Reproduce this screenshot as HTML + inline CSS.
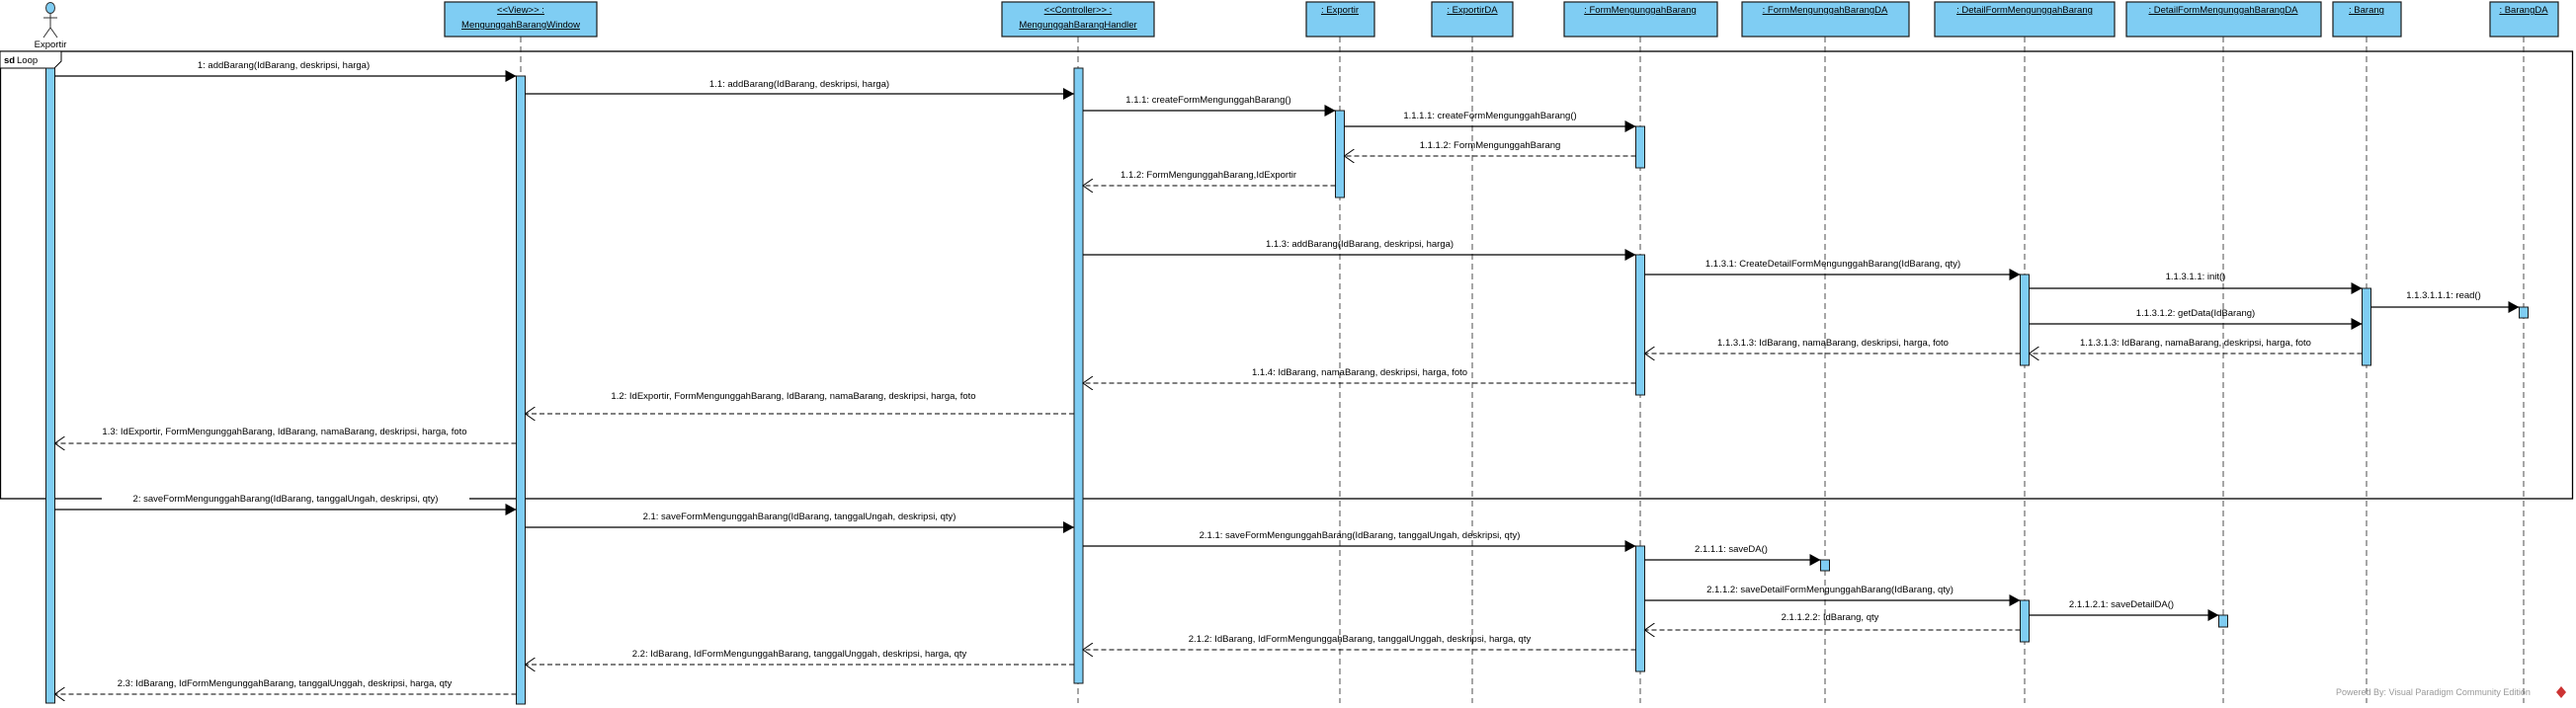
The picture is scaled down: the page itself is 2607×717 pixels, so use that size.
<!DOCTYPE html>
<html><head><meta charset="utf-8"><style>
html,body{margin:0;padding:0;background:#fff}
svg{display:block}
text{font-family:"Liberation Sans",Arial,sans-serif;font-size:9.5px;fill:#000}
.b{fill:#7fcdf3;stroke:#1a1a1a;stroke-width:1.2}
.a{fill:#7fcdf3;stroke:#1a1a1a;stroke-width:1}
.ll{stroke:#222;stroke-width:0.8;stroke-dasharray:6,4}
.m{stroke:#000;stroke-width:1.2;fill:none}
.r{stroke:#000;stroke-width:1;stroke-dasharray:5,3;fill:none}
.u{text-decoration:underline}
</style></head><body>
<svg width="2607" height="717" viewBox="0 0 2607 717" xmlns="http://www.w3.org/2000/svg">
<defs>
<marker id="f" markerWidth="12" markerHeight="12" refX="11" refY="6" orient="auto" markerUnits="userSpaceOnUse"><path d="M0,0 L11,6 L0,12 z" fill="#000"/></marker>
<marker id="o" markerWidth="12" markerHeight="14" refX="11" refY="7" orient="auto" markerUnits="userSpaceOnUse"><path d="M1,0 L11,7 L1,14" fill="none" stroke="#000" stroke-width="1"/></marker>
</defs>

<rect x="0.5" y="52" width="2603" height="453" fill="none" stroke="#000" stroke-width="1.3"/>
<path d="M0.5,52 H62 V62 L55,69 H0.5" fill="#fff" stroke="#000" stroke-width="1"/>
<text x="4" y="64" style="font-weight:bold">sd</text><text x="17" y="64">Loop</text>

<ellipse cx="51" cy="8" rx="4.5" ry="5.5" fill="#7fcdf3" stroke="#333"/>
<line x1="51" y1="13.5" x2="51" y2="28" stroke="#333"/>
<line x1="44" y1="18" x2="58" y2="18" stroke="#333"/>
<line x1="51" y1="28" x2="44" y2="38" stroke="#333"/>
<line x1="51" y1="28" x2="58" y2="38" stroke="#333"/>
<text x="51" y="48" text-anchor="middle">Exportir</text>

<rect class="b" x="450" y="2" width="154" height="35"/>
<text x="527" y="13" text-anchor="middle" class="u">&lt;&lt;View&gt;&gt; :</text>
<text x="527" y="28" text-anchor="middle" class="u">MengunggahBarangWindow</text>
<rect class="b" x="1014" y="2" width="154" height="35"/>
<text x="1091" y="13" text-anchor="middle" class="u">&lt;&lt;Controller&gt;&gt; :</text>
<text x="1091" y="28" text-anchor="middle" class="u">MengunggahBarangHandler</text>
<rect class="b" x="1322" y="2" width="69" height="35"/><text x="1356" y="13" text-anchor="middle" class="u">: Exportir</text>
<rect class="b" x="1449" y="2" width="82" height="35"/><text x="1490" y="13" text-anchor="middle" class="u">: ExportirDA</text>
<rect class="b" x="1583" y="2" width="155" height="35"/><text x="1660" y="13" text-anchor="middle" class="u">: FormMengunggahBarang</text>
<rect class="b" x="1763" y="2" width="169" height="35"/><text x="1847" y="13" text-anchor="middle" class="u">: FormMengunggahBarangDA</text>
<rect class="b" x="1958" y="2" width="182" height="35"/><text x="2049" y="13" text-anchor="middle" class="u">: DetailFormMengunggahBarang</text>
<rect class="b" x="2152" y="2" width="197" height="35"/><text x="2250" y="13" text-anchor="middle" class="u">: DetailFormMengunggahBarangDA</text>
<rect class="b" x="2361" y="2" width="69" height="35"/><text x="2395" y="13" text-anchor="middle" class="u">: Barang</text>
<rect class="b" x="2520" y="2" width="69" height="35"/><text x="2554" y="13" text-anchor="middle" class="u">: BarangDA</text>

<line class="ll" x1="527" y1="37" x2="527" y2="712"/>
<line class="ll" x1="1091" y1="37" x2="1091" y2="712"/>
<line class="ll" x1="1356" y1="37" x2="1356" y2="712"/>
<line class="ll" x1="1490" y1="37" x2="1490" y2="712"/>
<line class="ll" x1="1660" y1="37" x2="1660" y2="712"/>
<line class="ll" x1="1847" y1="37" x2="1847" y2="712"/>
<line class="ll" x1="2049" y1="37" x2="2049" y2="712"/>
<line class="ll" x1="2250" y1="37" x2="2250" y2="712"/>
<line class="ll" x1="2395" y1="37" x2="2395" y2="712"/>
<line class="ll" x1="2554" y1="37" x2="2554" y2="712"/>

<rect class="a" x="46.5" y="69" width="9" height="643"/>
<rect class="a" x="522.5" y="77" width="9" height="636"/>
<rect class="a" x="1087" y="69" width="9" height="623"/>
<rect class="a" x="1351.5" y="112" width="9" height="88"/>
<rect class="a" x="1655.5" y="128" width="9" height="42"/>
<rect class="a" x="1655.5" y="258" width="9" height="142"/>
<rect class="a" x="1655.5" y="553" width="9" height="127"/>
<rect class="a" x="1842.5" y="567" width="9" height="11"/>
<rect class="a" x="2044.5" y="278" width="9" height="92"/>
<rect class="a" x="2044.5" y="608" width="9" height="42"/>
<rect class="a" x="2245.5" y="623" width="9" height="12"/>
<rect class="a" x="2390.5" y="292" width="9" height="78"/>
<rect class="a" x="2549.5" y="311" width="9" height="11"/>

<line class="m" x1="55.5" y1="77" x2="522.5" y2="77" marker-end="url(#f)"/><text x="287" y="69" text-anchor="middle">1: addBarang(IdBarang, deskripsi, harga)</text>
<line class="m" x1="531.5" y1="95" x2="1087" y2="95" marker-end="url(#f)"/><text x="809" y="88" text-anchor="middle">1.1: addBarang(IdBarang, deskripsi, harga)</text>
<line class="m" x1="1096" y1="112" x2="1351.5" y2="112" marker-end="url(#f)"/><text x="1223" y="104" text-anchor="middle">1.1.1: createFormMengunggahBarang()</text>
<line class="m" x1="1360.5" y1="128" x2="1655.5" y2="128" marker-end="url(#f)"/><text x="1508" y="120" text-anchor="middle">1.1.1.1: createFormMengunggahBarang()</text>
<line class="r" x1="1655.5" y1="158" x2="1360.5" y2="158" marker-end="url(#o)"/><text x="1508" y="150" text-anchor="middle">1.1.1.2: FormMengunggahBarang</text>
<line class="r" x1="1351.5" y1="188" x2="1096" y2="188" marker-end="url(#o)"/><text x="1223" y="180" text-anchor="middle">1.1.2: FormMengunggahBarang,IdExportir</text>
<line class="m" x1="1096" y1="258" x2="1655.5" y2="258" marker-end="url(#f)"/><text x="1376" y="250" text-anchor="middle">1.1.3: addBarang(IdBarang, deskripsi, harga)</text>
<line class="m" x1="1664.5" y1="278" x2="2044.5" y2="278" marker-end="url(#f)"/><text x="1855" y="270" text-anchor="middle">1.1.3.1: CreateDetailFormMengunggahBarang(IdBarang, qty)</text>
<line class="m" x1="2053.5" y1="292" x2="2390.5" y2="292" marker-end="url(#f)"/><text x="2222" y="283" text-anchor="middle">1.1.3.1.1: init()</text>
<line class="m" x1="2399.5" y1="311" x2="2549.5" y2="311" marker-end="url(#f)"/><text x="2473" y="302" text-anchor="middle">1.1.3.1.1.1: read()</text>
<line class="m" x1="2053.5" y1="328" x2="2390.5" y2="328" marker-end="url(#f)"/><text x="2222" y="320" text-anchor="middle">1.1.3.1.2: getData(IdBarang)</text>
<line class="r" x1="2390.5" y1="358" x2="2053.5" y2="358" marker-end="url(#o)"/><text x="2222" y="350" text-anchor="middle">1.1.3.1.3: IdBarang, namaBarang, deskripsi, harga, foto</text>
<line class="r" x1="2044.5" y1="358" x2="1664.5" y2="358" marker-end="url(#o)"/><text x="1855" y="350" text-anchor="middle">1.1.3.1.3: IdBarang, namaBarang, deskripsi, harga, foto</text>
<line class="r" x1="1655.5" y1="388" x2="1096" y2="388" marker-end="url(#o)"/><text x="1376" y="380" text-anchor="middle">1.1.4: IdBarang, namaBarang, deskripsi, harga, foto</text>
<line class="r" x1="1087" y1="419" x2="531.5" y2="419" marker-end="url(#o)"/><text x="803" y="404" text-anchor="middle">1.2: IdExportir, FormMengunggahBarang, IdBarang, namaBarang, deskripsi, harga, foto</text>
<line class="r" x1="522.5" y1="449" x2="55.5" y2="449" marker-end="url(#o)"/><text x="288" y="440" text-anchor="middle">1.3: IdExportir, FormMengunggahBarang, IdBarang, namaBarang, deskripsi, harga, foto</text>
<rect x="103" y="499" width="372" height="12" fill="#fff"/>
<text x="289" y="508" text-anchor="middle">2: saveFormMengunggahBarang(IdBarang, tanggalUngah, deskripsi, qty)</text>
<line class="m" x1="55.5" y1="516" x2="522.5" y2="516" marker-end="url(#f)"/>
<line class="m" x1="531.5" y1="534" x2="1087" y2="534" marker-end="url(#f)"/><text x="809" y="526" text-anchor="middle">2.1: saveFormMengunggahBarang(IdBarang, tanggalUngah, deskripsi, qty)</text>
<line class="m" x1="1096" y1="553" x2="1655.5" y2="553" marker-end="url(#f)"/><text x="1376" y="545" text-anchor="middle">2.1.1: saveFormMengunggahBarang(IdBarang, tanggalUngah, deskripsi, qty)</text>
<line class="m" x1="1664.5" y1="567" x2="1842.5" y2="567" marker-end="url(#f)"/><text x="1752" y="559" text-anchor="middle">2.1.1.1: saveDA()</text>
<line class="m" x1="1664.5" y1="608" x2="2044.5" y2="608" marker-end="url(#f)"/><text x="1852" y="600" text-anchor="middle">2.1.1.2: saveDetailFormMengunggahBarang(IdBarang, qty)</text>
<line class="m" x1="2053.5" y1="623" x2="2245.5" y2="623" marker-end="url(#f)"/><text x="2147" y="615" text-anchor="middle">2.1.1.2.1: saveDetailDA()</text>
<line class="r" x1="2044.5" y1="638" x2="1664.5" y2="638" marker-end="url(#o)"/><text x="1852" y="628" text-anchor="middle">2.1.1.2.2: IdBarang, qty</text>
<line class="r" x1="1655.5" y1="658" x2="1096" y2="658" marker-end="url(#o)"/><text x="1376" y="650" text-anchor="middle">2.1.2: IdBarang, IdFormMengunggahBarang, tanggalUnggah, deskripsi, harga, qty</text>
<line class="r" x1="1087" y1="673" x2="531.5" y2="673" marker-end="url(#o)"/><text x="809" y="665" text-anchor="middle">2.2: IdBarang, IdFormMengunggahBarang, tanggalUnggah, deskripsi, harga, qty</text>
<line class="r" x1="522.5" y1="703" x2="55.5" y2="703" marker-end="url(#o)"/><text x="288" y="695" text-anchor="middle">2.3: IdBarang, IdFormMengunggahBarang, tanggalUnggah, deskripsi, harga, qty</text>

<text x="2364" y="704" style="fill:#999;font-size:9px">Powered By: Visual Paradigm Community Edition</text>
<path d="M2592,695 l5,6 l-5,6 l-5,-6 z" fill="#c33"/>
</svg>
</body></html>
